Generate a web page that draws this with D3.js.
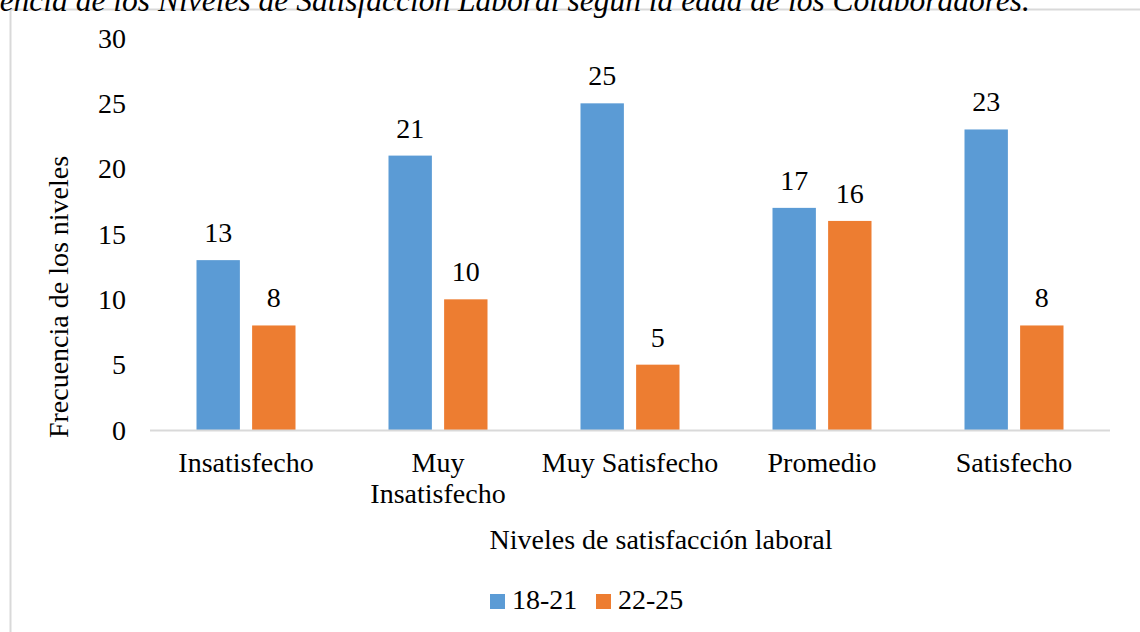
<!DOCTYPE html>
<html><head><meta charset="utf-8">
<script src="https://cdn.jsdelivr.net/npm/d3@7"></script>
<style>body{margin:0;background:#fff}text{font-family:"Liberation Serif","Times New Roman",serif;fill:#000}</style>
</head><body>
<svg id="c" width="1140" height="632"></svg>
<script>
const categories = ["Insatisfecho", "Muy Insatisfecho", "Muy Satisfecho", "Promedio", "Satisfecho"];
const categoryLines = [["Insatisfecho"], ["Muy", "Insatisfecho"], ["Muy Satisfecho"], ["Promedio"], ["Satisfecho"]];
const seriesNames = ["18-21", "22-25"];
const values1821 = [13, 21, 25, 17, 23];
const values2225 = [8, 10, 5, 16, 8];
const yTicks = [0, 5, 10, 15, 20, 25, 30];
const colors = ["#5b9bd5", "#ed7d31"];
const titleText = "Frecuencia de los Niveles de Satisfacción Laboral según la edad de los Colaboradores.";
const xTitle = "Niveles de satisfacción laboral";
const yTitle = "Frecuencia de los niveles";

const svg = d3.select("#c");
// border
svg.append("path").attr("d","M10.5,632 V9.5 H1140").attr("fill","none").attr("stroke","#d9d9d9").attr("stroke-width",2);
// title (cut off at the top edge in the reference)
svg.append("text").attr("x",1030).attr("y",11).attr("text-anchor","end")
  .style("font-style","italic").style("font-size","31.5px").text(titleText);

const x = d3.scaleBand().domain(categories).range([150,1110]).paddingInner(0).paddingOuter(0);
const y = d3.scaleLinear().domain([0,30]).range([430,38]);
const sub = d3.scaleBand().domain(seriesNames).range([46.5, x.bandwidth()-46.5]).paddingInner(0.22);

// y tick labels
svg.append("g").selectAll("text").data(yTicks).join("text")
  .attr("x",126).attr("y",d=>y(d)).attr("dy","0.35em").attr("text-anchor","end")
  .style("font-size","28px").text(d=>d);

const data = seriesNames.map((s,i)=>({name:s, color:colors[i], vals: i===0?values1821:values2225}));
data.forEach(s=>{
  const g = svg.append("g");
  g.selectAll("rect").data(categories).join("rect")
    .attr("x",(c)=>x(c)+sub(s.name)).attr("width",sub.bandwidth())
    .attr("y",(c,i)=>y(s.vals[i])).attr("height",(c,i)=>y(0)-y(s.vals[i]))
    .attr("fill",s.color);
  g.selectAll("text").data(categories).join("text")
    .attr("x",(c)=>x(c)+sub(s.name)+sub.bandwidth()/2).attr("y",(c,i)=>y(s.vals[i])-18)
    .attr("text-anchor","middle").style("font-size","28px").text((c,i)=>s.vals[i]);
});

// x axis line
svg.append("line").attr("x1",150).attr("x2",1110).attr("y1",y(0)+0.5).attr("y2",y(0)+0.5)
  .attr("stroke","#d9d9d9").attr("stroke-width",2);

// category labels
categories.forEach((c,i)=>{
  const t = svg.append("text").attr("text-anchor","middle").style("font-size","28px");
  categoryLines[i].forEach((ln,j)=>{
    t.append("tspan").attr("x",x(c)+x.bandwidth()/2).attr("y",472+j*31).text(ln);
  });
});

// axis titles
svg.append("text").attr("x",661).attr("y",549).attr("text-anchor","middle").style("font-size","28px").text(xTitle);
svg.append("text").attr("transform","translate(68,297) rotate(-90)").attr("text-anchor","middle").style("font-size","28px").text(yTitle);

// legend
const leg = svg.append("g");
const legX = [490, 596];
seriesNames.forEach((s,i)=>{
  leg.append("rect").attr("x",legX[i]).attr("y",594).attr("width",15).attr("height",15).attr("fill",colors[i]);
  leg.append("text").attr("x",legX[i]+22).attr("y",609).style("font-size","28px").text(s);
});
</script>
</body></html>
